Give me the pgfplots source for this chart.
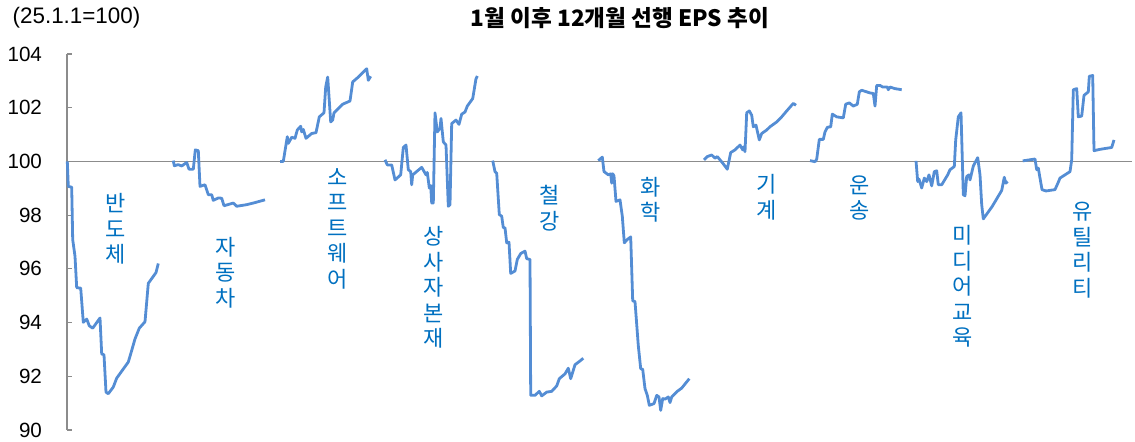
\documentclass[border=0pt]{standalone}
\usepackage{fontspec}
\setmainfont{Liberation Sans}
\newfontfamily\kr{Noto Sans CJK KR}
\usepackage{pgfplots}
\pgfplotsset{compat=1.18}
\definecolor{epsline}{RGB}{84,141,212}
\definecolor{lblblue}{RGB}{0,112,192}
\definecolor{axgray}{RGB}{140,140,140}
\tikzset{lbl/.style={align=center, text=lblblue, inner sep=0pt,
    font=\kr\fontsize{11}{12.75}\selectfont},
    eps/.style={epsline, solid, line width=1.4pt, mark=none, line join=round}}

\begin{document}
\begin{tikzpicture}
\useasboundingbox (0,0) rectangle (567.5pt,221pt);
\begin{axis}[
    at={(33.5pt,6pt)}, anchor=south west,
    width=532.5pt, height=188pt, scale only axis,
    xmin=67, xmax=1132, ymin=90, ymax=104,
    axis x line=none,
    axis y line*=left,
    y axis line style={axgray, line width=0.6pt},
    ytick={90,92,...,104},
    tick align=inside,
    major tick length=2.5pt,
    ytick style={axgray, line width=0.6pt},
    yticklabel style={font=\fontsize{10.3}{12}\selectfont, xshift=-9pt},
    /pgf/number format/assume math mode=true,
    clip=false,
]

% 100 baseline
\addplot[axgray, line width=0.6pt] coordinates {(67,100) (1132,100)};

% 반도체
\addplot[eps] coordinates {(67.3,100.0) (68.3,99.07) (71.7,99.04) (72.7,97.09) (75,96.47) (76.7,95.3) (80.7,95.28) (83.3,94.01) (86.7,94.13) (89.3,93.88) (92.7,93.79) (100,94.17) (101.7,92.83) (104,92.8) (106,91.41) (108.3,91.35) (113.3,91.6) (116.7,91.93) (128.3,92.53) (131.7,92.96) (135,93.39) (139.3,93.79) (145,94.03) (148.3,95.46) (156,95.86) (158.3,96.2)};
% 자동차
\addplot[eps] coordinates {(173.3,100.03) (174.3,99.84) (178.3,99.88) (181.7,99.83) (186.7,99.96) (189,99.71) (193.3,99.71) (195.3,100.43) (198.3,100.4) (200,99.07) (205,99.13) (208.3,98.76) (211.7,98.76) (213.3,98.55) (218.3,98.64) (221.7,98.63) (224,98.35) (233.3,98.45) (236.7,98.33) (246.7,98.39) (253.3,98.45) (265,98.57)};
% 소프트웨어
\addplot[eps] coordinates {(280,100.0) (283.3,100.0) (287.3,100.92) (288.3,100.67) (291.7,100.9) (295,100.86) (297.3,101.17) (300.7,101.31) (301.7,101.1) (303.3,101.19) (306,100.86) (311.7,101.04) (316,101.07) (319.3,101.66) (324,101.81) (325.7,102.77) (327.7,103.14) (330.7,101.47) (332.7,101.54) (334,101.81) (340,102.03) (342.7,102.13) (350,102.25) (352.7,102.96) (358.3,103.14) (366.7,103.45) (368.3,103.02) (370.7,103.17)};
% 상사자본재
\addplot[eps] coordinates {(385,100.06) (387.3,99.87) (391.7,99.87) (395,99.31) (400.7,99.5) (403.3,100.52) (406,100.61) (408.3,99.69) (410.7,99.62) (411.7,99.13) (412.7,99.5) (421.7,99.78) (426,99.5) (427.3,99.59) (429.3,99.01) (430.7,99.1) (431.7,98.45) (433.3,98.45) (435,101.81) (437.3,101.1) (440,101.23) (441,101.6) (443.3,100.73) (446,100.61) (448.3,98.33) (450,98.39) (451.7,101.41) (456,101.54) (459,101.38) (461.7,101.76) (465,101.84) (467.3,102.06) (472.7,102.34) (476,103.08) (477.3,103.18)};
% 철강
\addplot[eps] coordinates {(492.7,100.03) (495,99.62) (496.7,99.56) (499.3,98.02) (501.7,97.96) (503.3,97.53) (505,97.53) (506.7,96.97) (509,96.99) (510.7,95.83) (515,95.92) (517.3,96.35) (520.7,96.57) (525,96.66) (526.7,96.38) (530,96.35) (530.7,91.29) (535,91.29) (539.3,91.44) (541.7,91.27) (546.7,91.41) (551.7,91.44) (556.7,91.64) (559.3,91.91) (565,92.09) (568.3,92.3) (570.7,91.91) (575,92.43) (579.3,92.55) (583.3,92.67)};
% 화학
\addplot[eps] coordinates {(598.3,100.03) (602.3,100.16) (604,99.62) (608.3,99.5) (610.7,99.54) (611.7,99.19) (612.7,99.54) (614,99.46) (616,98.51) (620,98.57) (622.3,97.96) (624.3,96.97) (627.3,97.09) (630.7,97.19) (632.7,94.81) (635,94.78) (638.3,93.14) (640.7,92.28) (642.7,92.26) (645,91.54) (647.3,91.29) (649.3,90.92) (654,90.98) (656.7,91.29) (659,91.23) (660.7,90.73) (662.7,91.17) (665,91.15) (668.3,91.23) (670,91.02) (671.7,91.23) (677.3,91.44) (681.7,91.56) (689.3,91.91)};
% 기계
\addplot[eps] coordinates {(704,100.06) (707.3,100.18) (711.7,100.24) (715,100.12) (717.3,100.18) (723.3,99.91) (727.3,99.71) (730.7,100.33) (735,100.43) (740,100.61) (742.7,100.43) (744,100.55) (745,100.36) (746.7,101.81) (749.3,101.88) (751.7,101.72) (753.3,101.29) (756,101.35) (759.3,100.8) (761.7,101.04) (766.7,101.17) (770,101.29) (776.7,101.47) (781.7,101.66) (786.7,101.88) (793.3,102.16) (796,102.09)};
% 운송
\addplot[eps] coordinates {(810,100.03) (815,99.99) (816.7,100.08) (819.3,100.82) (823.3,100.82) (825,101.1) (827.3,101.27) (830.7,101.29) (832.3,101.76) (836.7,101.66) (843.3,101.62) (845.7,102.13) (849.3,102.18) (853.3,102.06) (857.3,102.13) (859.3,102.59) (861.7,102.65) (870,102.55) (873.3,102.53) (875,102.06) (876.7,102.83) (880,102.83) (882.7,102.77) (887.3,102.77) (888.3,102.67) (890,102.77) (895,102.71) (901.7,102.67)};
% 미디어교육
\addplot[eps] coordinates {(916,100.02) (917.7,99.25) (919,99.34) (921.7,99.01) (924.3,99.38) (926.7,99.25) (929,99.5) (931.7,99.09) (934.3,99.62) (936.7,99.65) (938.3,99.13) (941.7,99.13) (947.7,99.5) (950,99.69) (954.3,99.81) (955.7,100.8) (958.3,101.66) (961,101.81) (963.3,98.76) (965,98.72) (966.7,99.44) (969,99.5) (970,99.31) (973.3,99.83) (977.7,100.14) (980,99.5) (981.7,98.39) (983.3,97.86) (992.3,98.33) (1001.7,98.92) (1004.3,99.41) (1005.7,99.19) (1007.7,99.25)};
% 유틸리티
\addplot[eps] coordinates {(1022.7,100.02) (1035,100.09) (1036.7,99.69) (1038.3,99.75) (1040,99.38) (1042,98.95) (1046,98.9) (1055,98.95) (1058,99.2) (1060,99.38) (1065,99.5) (1070,99.62) (1071.7,100.06) (1073.3,102.67) (1076.7,102.71) (1078.3,101.66) (1081.7,101.69) (1084,102.46) (1088.3,102.59) (1089.3,103.17) (1092.7,103.2) (1094,100.4) (1100,100.45) (1111.7,100.52) (1114,100.8)};

% sector labels
\node[lbl] at (axis cs:116,97.48) {반\\도\\체};
\node[lbl] at (axis cs:226,95.87) {자\\동\\차};
\node[lbl] at (axis cs:338,97.5) {소\\프\\트\\웨\\어};
\node[lbl] at (axis cs:434,95.3) {상\\사\\자\\본\\재};
\node[lbl] at (axis cs:550,98.26) {철\\강};
\node[lbl] at (axis cs:651,98.57) {화\\학};
\node[lbl] at (axis cs:767,98.67) {기\\계};
\node[lbl] at (axis cs:860,98.63) {운\\송};
\node[lbl] at (axis cs:963,95.35) {미\\디\\어\\교\\육};
\node[lbl] at (axis cs:1083,96.69) {유\\틸\\리\\티};

% title and unit note
\node[font=\kr\bfseries\fontsize{11.3}{13}\selectfont] at (axis cs:620,105.35) {1월 이후 12개월 선행 EPS 추이};
\node[font=\fontsize{11.2}{13}\selectfont] at (axis cs:76.5,105.35) {(25.1.1=100)};
\end{axis}
\end{tikzpicture}
\end{document}
